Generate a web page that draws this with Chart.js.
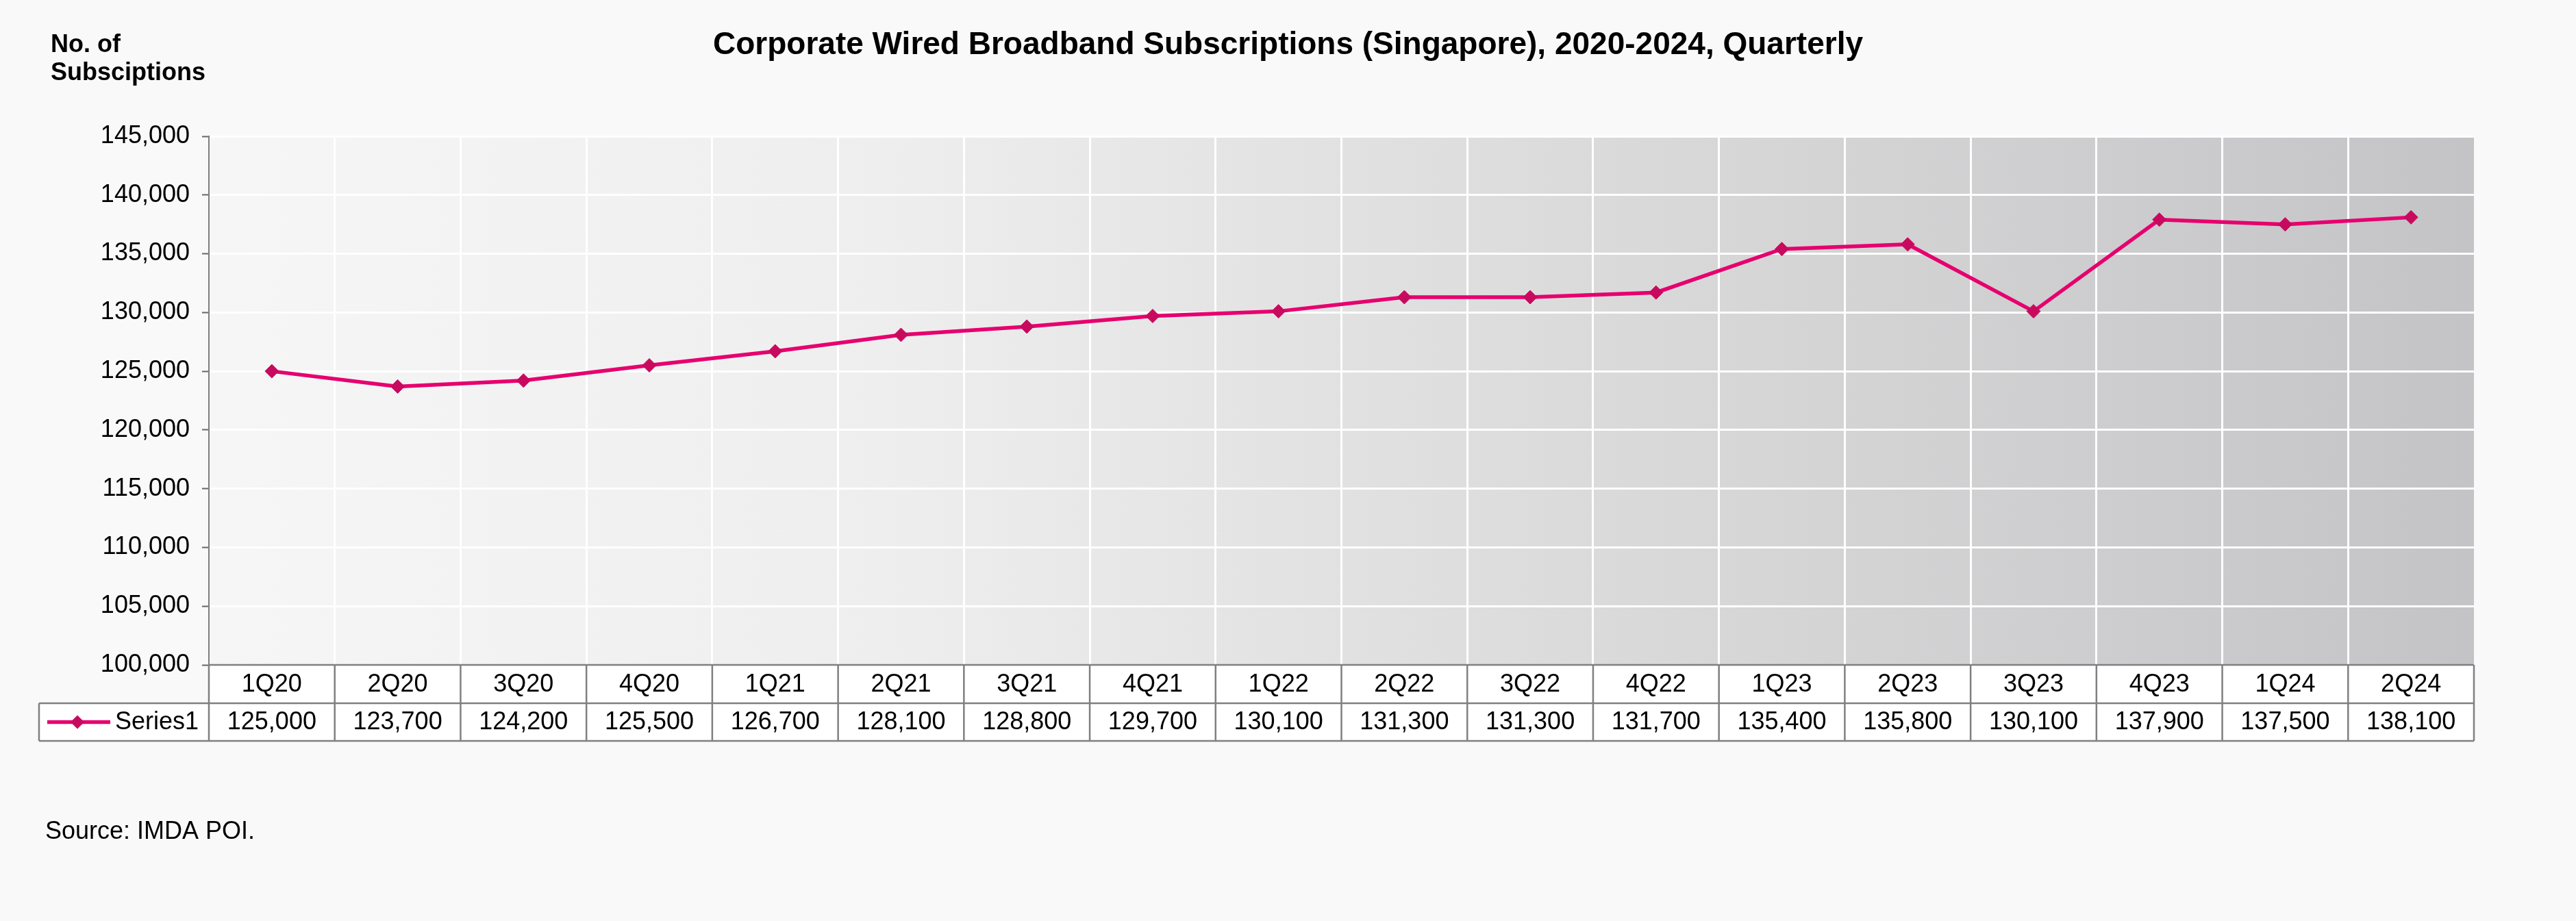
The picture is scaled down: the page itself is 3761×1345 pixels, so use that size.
<!DOCTYPE html>
<html>
<head>
<meta charset="utf-8">
<script src="https://cdn.jsdelivr.net/npm/chart.js@4.4.1/dist/chart.umd.min.js"></script>
<style>
    html, body { margin: 0; padding: 0; background: #f9f9f9; }
    canvas { display: block; }
</style>
</head>
<body>
<canvas id="chart" width="3761" height="1345"></canvas>
<script>
const quarters = ['1Q20', '2Q20', '3Q20', '4Q20', '1Q21', '2Q21', '3Q21', '4Q21', '1Q22',
    '2Q22', '3Q22', '4Q22', '1Q23', '2Q23', '3Q23', '4Q23', '1Q24', '2Q24']
const series1 = [125000, 123700, 124200, 125500, 126700, 128100, 128800, 129700, 130100,
    131300, 131300, 131700, 135400, 135800, 130100, 137900, 137500, 138100]
const seriesName = 'Series1'
const yMin = 100000
const yMax = 145000
const yStep = 5000

const FONT = "'Liberation Sans', Arial, sans-serif"
const LINE = '#e6006f'
const MARK = '#c80a5e'
const fmt = v => v.toLocaleString('en-US')

// background, data table and loose texts
const decor = {
    id: 'decor',
    beforeDraw(chart) {
        const { ctx, chartArea: a } = chart
        ctx.save()
        ctx.fillStyle = '#f9f9f9'
        ctx.fillRect(0, 0, chart.width, chart.height)
        const g = ctx.createLinearGradient(a.left, 0, a.right, 0)
        g.addColorStop(0, '#f6f6f6')
        g.addColorStop(0.3, '#eeeeee')
        g.addColorStop(0.6, '#dbdbdb')
        g.addColorStop(1, '#c4c3c6')
        ctx.fillStyle = g
        ctx.fillRect(a.left, a.top, a.right - a.left, a.bottom - a.top)
        ctx.restore()
    },
    afterDraw(chart) {
        const { ctx, chartArea: a } = chart
        const x = chart.scales.x
        const step = x.getPixelForValue(1) - x.getPixelForValue(0)
        const y0 = a.bottom, y1 = y0 + 56, y2 = y1 + 55
        const legendLeft = 57

        ctx.save()
        ctx.fillStyle = '#ffffff'
        ctx.fillRect(a.left, y0, a.right - a.left, y1 - y0)
        ctx.fillRect(legendLeft, y1, a.right - legendLeft, y2 - y1)

        ctx.strokeStyle = '#808080'
        ctx.lineWidth = 2.5
        ctx.beginPath()
        ctx.moveTo(a.left, y0); ctx.lineTo(a.right, y0)
        ctx.moveTo(legendLeft, y1); ctx.lineTo(a.right, y1)
        ctx.moveTo(legendLeft, y2); ctx.lineTo(a.right, y2)
        ctx.moveTo(legendLeft, y1); ctx.lineTo(legendLeft, y2)
        quarters.forEach((q, i) => {
            const bx = x.getPixelForValue(i) - step / 2
            ctx.moveTo(bx, y0); ctx.lineTo(bx, y2)
        })
        ctx.moveTo(a.right, y0); ctx.lineTo(a.right, y2)
        ctx.stroke()

        ctx.fillStyle = '#000'
        ctx.font = '36px ' + FONT
        ctx.textAlign = 'center'
        ctx.textBaseline = 'middle'
        quarters.forEach((q, i) => {
            const cx = x.getPixelForValue(i)
            ctx.fillText(q, cx, (y0 + y1) / 2 + 1)
            ctx.fillText(fmt(series1[i]), cx, (y1 + y2) / 2 + 1)
        })

        // legend key
        const ly = (y1 + y2) / 2
        ctx.strokeStyle = LINE
        ctx.lineWidth = 5.5
        ctx.beginPath()
        ctx.moveTo(69, ly); ctx.lineTo(161, ly)
        ctx.stroke()
        ctx.fillStyle = MARK
        ctx.beginPath()
        ctx.moveTo(113, ly - 10); ctx.lineTo(123, ly); ctx.lineTo(113, ly + 10); ctx.lineTo(103, ly)
        ctx.closePath()
        ctx.fill()
        ctx.fillStyle = '#000'
        ctx.textAlign = 'left'
        ctx.fillText(seriesName, 168, ly + 1)

        ctx.textBaseline = 'alphabetic'
        ctx.font = 'bold 46px ' + FONT
        ctx.textAlign = 'center'
        ctx.fillText('Corporate Wired Broadband Subscriptions (Singapore), 2020-2024, Quarterly', chart.width / 2, 79)

        ctx.textAlign = 'left'
        ctx.font = 'bold 36px ' + FONT
        ctx.fillText('No. of', 74, 76)
        ctx.fillText('Subsciptions', 74, 117)

        ctx.font = '36px ' + FONT
        ctx.fillText('Source: IMDA POI.', 66, 1225)
        ctx.restore()
    }
}

document.addEventListener('DOMContentLoaded', () => {
    const ctx = document.getElementById('chart')
    Chart.defaults.font.family = FONT
    new Chart(ctx, {
        type: 'line',
        data: {
            labels: quarters,
            datasets: [{
                label: seriesName,
                data: series1,
                borderColor: LINE,
                borderWidth: 5.5,
                pointStyle: 'rectRot',
                pointRadius: 10,
                pointBackgroundColor: MARK,
                pointBorderColor: MARK,
                pointBorderWidth: 1,
                tension: 0
            }]
        },
        options: {
            responsive: false,
            animation: false,
            layout: {
                padding: { top: 199, left: 0, right: 149, bottom: 374 }
            },
            scales: {
                x: {
                    offset: true,
                    grid: {
                        offset: true,
                        drawTicks: false,
                        lineWidth: 3,
                        color: c => (c.index > 0 && c.index < quarters.length) ? '#ffffff' : 'rgba(0,0,0,0)'
                    },
                    border: { display: false },
                    ticks: { display: false },
                    afterFit: s => { s.height = 0 }
                },
                y: {
                    min: yMin,
                    max: yMax,
                    grid: {
                        color: '#ffffff',
                        lineWidth: 3,
                        tickColor: '#666666',
                        tickWidth: 2,
                        tickLength: 10
                    },
                    border: { display: true, color: '#7f7f7f', width: 2 },
                    ticks: {
                        stepSize: yStep,
                        padding: 18,
                        color: '#000',
                        font: { size: 36 },
                        callback: v => fmt(v)
                    },
                    afterFit: s => { s.width = 305 }
                }
            },
            plugins: {
                legend: { display: false },
                tooltip: { enabled: false },
                title: { display: false }
            }
        },
        plugins: [decor]
    })
})
</script>
</body>
</html>
